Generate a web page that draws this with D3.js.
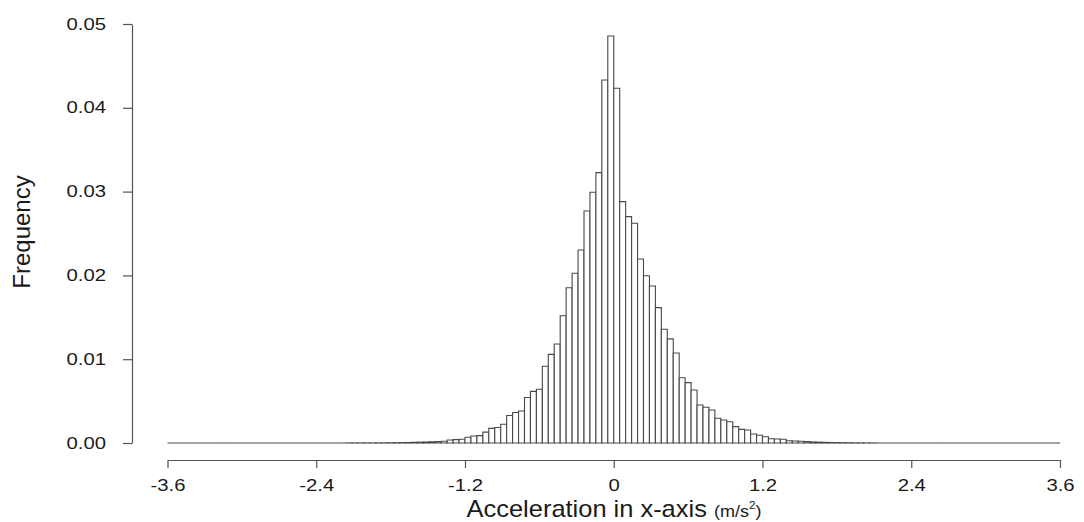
<!DOCTYPE html>
<html>
<head>
<meta charset="utf-8">
<script src="https://cdn.jsdelivr.net/npm/d3@7"></script>
<style>
  html, body { margin: 0; padding: 0; background: #fff; }
  svg text { font-family: "Liberation Sans", Arial, Helvetica, sans-serif; fill: #1a1a1a; }
</style>
</head>
<body>
<svg id="chart" width="1084" height="522"></svg>
<script>
// Histogram of x-axis acceleration: 150 equal bins spanning -3.6 to 3.6 m/s^2
const binStart = -3.6;
const binWidth = 0.048;
const frequency = [
  0, 0, 0, 0, 0, 0, 0, 0, 0, 0, 0, 0, 0, 0, 0, 0, 0, 0, 0, 0, 0, 0, 0, 0, 0, 0, 0, 0, 0, 0,
  0.00001, 0.00001, 0.00001, 0.00001, 0.00001,
  0.00002, 0.00002, 0.00003, 0.00004, 0.00005, 0.00006, 0.00008, 0.0001, 0.00012, 0.00014,
  0.00016, 0.0002, 0.00036, 0.0004, 0.00044, 0.00068, 0.00084, 0.00088, 0.0013, 0.00175,
  0.00185, 0.00224, 0.00328, 0.00364, 0.00382, 0.00543, 0.00616, 0.00642, 0.00915, 0.01058,
  0.01181, 0.01519, 0.01853, 0.02025, 0.02303, 0.02768, 0.02992, 0.03226, 0.04332, 0.04857,
  0.04233, 0.0288, 0.02701, 0.02622, 0.02196, 0.01996, 0.01874, 0.01615, 0.01357, 0.01243,
  0.01074, 0.00779, 0.0072, 0.00632, 0.00453, 0.00426, 0.00394, 0.00296, 0.00274, 0.00254,
  0.00195, 0.00163, 0.00155, 0.00107, 0.00092, 0.00075, 0.00051, 0.00048, 0.00044, 0.00027,
  0.00024, 0.0002, 0.00016, 0.00012, 0.0001, 0.00008, 0.00006, 0.00005, 0.00004, 0.00003,
  0.00002, 0.00002, 0.00001, 0.00001,
  0, 0, 0, 0, 0, 0, 0, 0, 0, 0, 0, 0, 0, 0, 0, 0, 0, 0, 0, 0, 0, 0, 0, 0, 0, 0, 0, 0, 0, 0, 0
];
const xTicks = [-3.6, -2.4, -1.2, 0, 1.2, 2.4, 3.6];
const xTickLabels = ["-3.6", "-2.4", "-1.2", "0", "1.2", "2.4", "3.6"];
const yTicks = [0, 0.01, 0.02, 0.03, 0.04, 0.05];
const yTickLabels = ["0.00", "0.01", "0.02", "0.03", "0.04", "0.05"];

const bins = frequency.map((v, i) => ({
  x0: binStart + i * binWidth,
  x1: binStart + (i + 1) * binWidth,
  value: v
}));

const svg = d3.select("#chart");
const x = d3.scaleLinear().domain([-3.6, 3.6]).range([167.5, 1060]);
const y = d3.scaleLinear().domain([0, 0.05]).range([443, 24]);

const axisColor = "#555";
const tickStretch = 1.27;   // tick glyphs are drawn wider than tall
const titleStretch = 1.06;

// bars (drawn as closed outlines so empty bins still trace the baseline)
svg.append("g")
  .selectAll("path")
  .data(bins)
  .join("path")
  .attr("d", d => {
    const a = x(d.x0), b = x(d.x1), t = y(d.value), b0 = y(0);
    return `M${a},${b0}V${t}H${b}V${b0}Z`;
  })
  .attr("fill", "#fff")
  .attr("stroke", "#484848")
  .attr("stroke-width", 1.1);

// y axis
const yAxis = svg.append("g")
  .attr("transform", "translate(132,0)")
  .call(d3.axisLeft(y).tickValues(yTicks)
    .tickFormat((d, i) => yTickLabels[i])
    .tickSize(9).tickSizeOuter(0).tickPadding(17));

// x axis
const xAxis = svg.append("g")
  .attr("transform", "translate(0,460)")
  .call(d3.axisBottom(x).tickValues(xTicks)
    .tickFormat((d, i) => xTickLabels[i])
    .tickSize(8).tickSizeOuter(0).tickPadding(12));

[yAxis, xAxis].forEach(g => {
  g.selectAll("path, line").attr("stroke", axisColor).attr("stroke-width", 1.2);
  g.selectAll("text")
    .attr("font-size", 16)
    .attr("fill", "#1a1a1a")
    .style("font-family", "'Liberation Sans', Arial, sans-serif")
    .each(function() {
      const t = d3.select(this);
      const tx = +t.attr("x") || 0;
      t.attr("x", 0).attr("transform", `translate(${tx},0) scale(${tickStretch},1)`);
    });
});

// axis titles
svg.append("text")
  .attr("transform", "translate(30,232) rotate(-90)")
  .attr("text-anchor", "middle")
  .attr("font-size", 24)
  .text("Frequency");

const xTitle = svg.append("text")
  .attr("transform", `translate(614,517) scale(${titleStretch},1)`)
  .attr("text-anchor", "middle")
  .attr("font-size", 24);
xTitle.append("tspan").text("Acceleration in x-axis ");
xTitle.append("tspan").attr("font-size", 17).text("(m/s");
xTitle.append("tspan").attr("font-size", 11).attr("dy", -8).text("2");
xTitle.append("tspan").attr("font-size", 17).attr("dy", 8).text(")");
</script>
</body>
</html>
